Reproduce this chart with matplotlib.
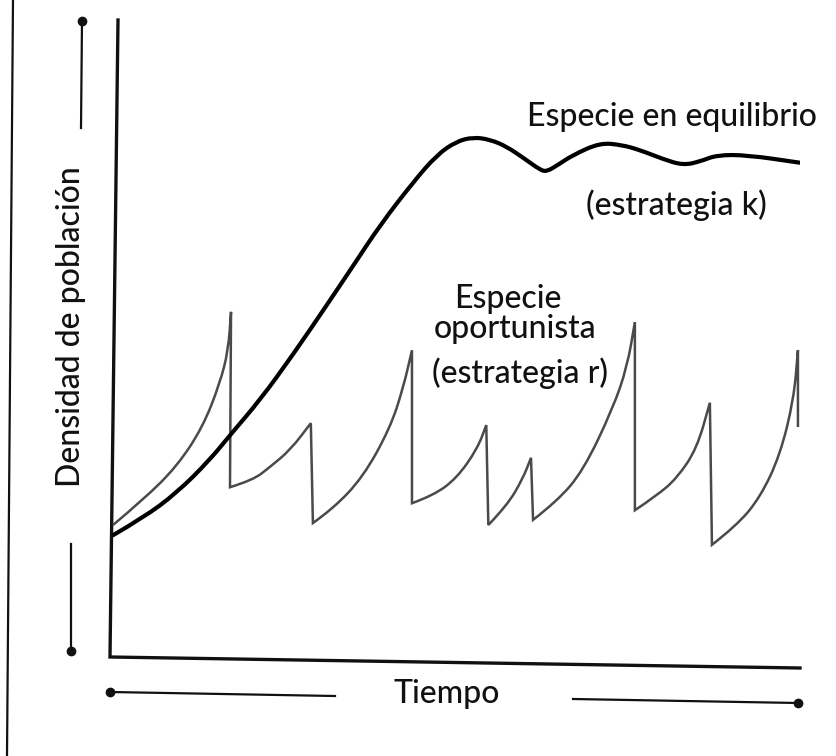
import matplotlib
matplotlib.use('Agg')
from matplotlib import pyplot as plt
from matplotlib.path import Path
from matplotlib.patches import PathPatch

# equilibrium species (k strategy)
eq_t = [0.15, 4.5, 9.4, 14.2, 17.2, 21.5, 26.3, 31.25, 35.3, 39.0, 43.8, 47.2, 50.0,
        52.5, 55.0, 57.4, 60.0, 62.2, 63.2, 65.0, 67.0, 70.9, 74.0, 76.7, 80.0,
        83.0, 85.5, 87.9, 92.3, 100]
eq_y = [19.5, 22.2, 26.1, 31.25, 35.2, 40.6, 47.7, 55.5, 62.0, 68.0, 74.7, 78.9, 81.0,
        81.7, 81.3, 80.2, 78.3, 76.6, 76.3, 77.5, 78.9, 80.8, 80.5, 79.7, 78.3,
        77.3, 77.9, 78.9, 78.9, 77.7]

# opportunistic species (r strategy): growth phases, each followed by a crash
rise_t = [[0.15, 4.5, 9.4, 13.2, 15.7, 16.9, 17.3],
          [17.15, 20.5, 23.0, 25.9, 28.9],
          [29.2, 32.1, 36.5, 40.4, 42.3, 43.6],
          [43.6, 46.7, 50.1, 53.1, 54.4],
          [54.7, 57.4, 59.7, 60.9],
          [61.2, 64.7, 68.5, 72.8, 74.9, 76.0],
          [76.0, 79.2, 82.1, 85.0, 86.9],
          [87.2, 90.8, 94.2, 97.1, 99.1, 99.7]]
rise_y = [[21.1, 25.0, 30.2, 36.4, 43.3, 48.4, 54.4],
          [27.0, 28.1, 30.2, 32.8, 37.0],
          [21.4, 23.6, 28.6, 36.2, 42.4, 48.4],
          [24.5, 25.7, 28.4, 33.0, 36.7],
          [21.1, 24.1, 28.3, 31.6],
          [21.9, 24.8, 29.6, 39.3, 45.9, 52.8],
          [23.4, 25.7, 28.4, 33.0, 40.2],
          [18.0, 21.0, 25.4, 32.0, 40.8, 48.4]]
saw_end_y = 36.4


def smooth(ts, ys, first_code):
    # quadratic pieces through the midpoints of the read points
    pts = list(zip(ts, ys))
    v = [pts[0]]
    c = [first_code]
    for i in range(1, len(pts) - 1):
        mid = ((pts[i][0] + pts[i + 1][0]) / 2, (pts[i][1] + pts[i + 1][1]) / 2)
        v += [pts[i], mid]
        c += [Path.CURVE3, Path.CURVE3]
    v.append(pts[-1])
    c.append(Path.LINETO)
    return v, c


W, H = 836, 756
fig = plt.figure(figsize=(W / 100, H / 100), dpi=100)

# overlay in pixel units for the hand-drawn frame and labels
deco = fig.add_axes([0, 0, 1, 1])
deco.set_xlim(0, W)
deco.set_ylim(H, 0)
deco.axis('off')

fnt = 'Lato'
ink = '#111111'
fs = 23

# scan edge
deco.plot([13, 7], [0, H], color=ink, lw=1.6)
# axes (slightly skewed like the scan)
deco.plot([118, 110, 800], [20, 657, 668], color=ink, lw=2.4, solid_joinstyle='miter')
# label guide lines with dots
deco.plot([82, 81], [21, 128], color=ink, lw=1.6)
deco.plot([82], [21], 'o', color=ink, ms=6)
deco.plot([71, 71], [544, 651], color=ink, lw=1.6)
deco.plot([71], [651], 'o', color=ink, ms=6)
deco.plot([110, 335], [692, 696], color=ink, lw=1.6)
deco.plot([110], [692], 'o', color=ink, ms=6)
deco.plot([573, 798], [699, 703], color=ink, lw=1.6)
deco.plot([798], [703], 'o', color=ink, ms=6)

kw = dict(family=fnt, fontsize=fs, color=ink, weight='medium')
deco.text(447, 703, 'Tiempo', ha='center', va='baseline', **kw)
deco.text(80, 327, 'Densidad de población', rotation=90, ha='center', va='baseline',
          rotation_mode='anchor', **kw)
deco.text(672, 126, 'Especie en equilibrio', ha='center', va='baseline', **kw)
deco.text(676, 215, '(estrategia k)', ha='center', va='baseline', **kw)
deco.text(508, 308, 'Especie', ha='center', va='baseline', **kw)
deco.text(515, 338, 'oportunista', ha='center', va='baseline', **kw)
deco.text(520, 383, '(estrategia r)', ha='center', va='baseline', **kw)

# data axes
ax = fig.add_axes([112 / W, (H - 660) / H, 688 / W, 640 / H])
ax.set_xlim(0, 100)
ax.set_ylim(0, 100)
ax.patch.set_alpha(0)
ax.axis('off')

verts = []
codes = []
for i in range(len(rise_t)):
    v, c = smooth(rise_t[i], rise_y[i], Path.MOVETO if i == 0 else Path.LINETO)
    verts += v
    codes += c
verts.append((rise_t[-1][-1], saw_end_y))
codes.append(Path.LINETO)
ax.add_patch(PathPatch(Path(verts, codes), fill=False, edgecolor='#4a4a4a', lw=1.8,
                       joinstyle='miter'))

ev, ec = smooth(eq_t, eq_y, Path.MOVETO)
ax.add_patch(PathPatch(Path(ev, ec), fill=False, edgecolor='black', lw=3.0,
                       capstyle='round', joinstyle='round'))

fig.savefig('out.png', dpi=100)
plt.close(fig)
